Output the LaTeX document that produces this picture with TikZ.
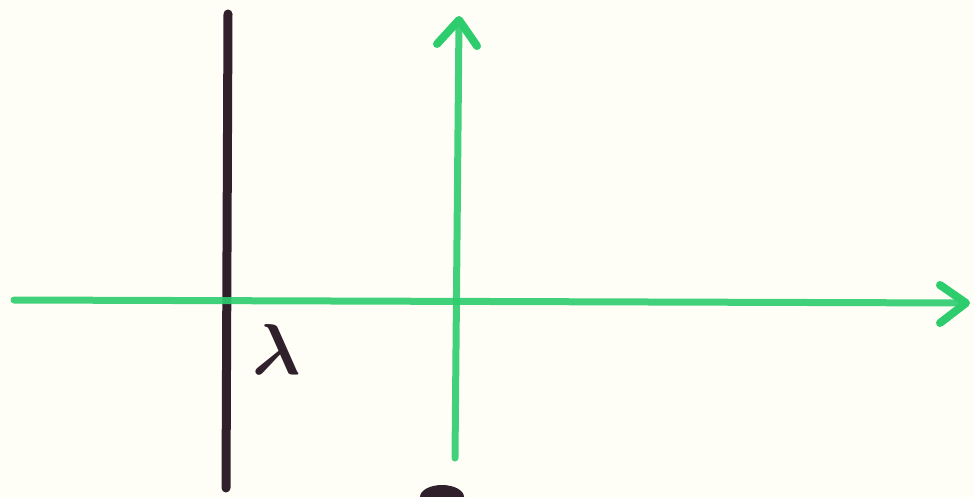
\documentclass[tikz,border=0pt]{standalone}
\usepackage{amsmath,bm}
\usetikzlibrary{calc}
\definecolor{marker}{RGB}{45,205,110}
\definecolor{ink}{RGB}{48,32,44}
\definecolor{paper}{RGB}{255,254,246}
\begin{document}
\begin{tikzpicture}[x=1pt,y=-1pt,
  axis/.style={draw=marker,line width=7pt,line cap=round,line join=round,opacity=0.9},
  tip/.style={draw=marker,line width=8pt,line cap=round,line join=round},
  wall/.style={draw=ink,line width=9pt,line cap=round}]
\fill[paper] (0,0) rectangle (974,497);
\useasboundingbox (0,0) rectangle (974,497);
% coordinates
\coordinate (hl) at (14,300);
\coordinate (hr) at (966,303);
\coordinate (vb) at (455,458);
\coordinate (vt) at (459,20);
\coordinate (wt) at (228,14);
\coordinate (wb) at (226,488);
% black vertical line
\draw[wall] (wt) -- (wb);
% horizontal axis
\draw[axis] (hl) -- (hr);
\draw[tip] ($(hr)+(-26,-18)$) -- (hr) -- ($(hr)+(-26,20)$);
% vertical axis
\draw[axis] (vb) -- (vt);
\draw[tip] ($(vt)+(-22,24)$) -- (vt) -- ($(vt)+(18,26)$);
% lambda label
\node[text=ink,inner sep=0pt] (lam) at (277,349) {\scalebox{7.2}{$\bm{\lambda}$}};
% partial mark at bottom edge
\fill[ink] (420,497) arc[start angle=180,end angle=360,x radius=22,y radius=12] -- cycle;
\end{tikzpicture}
\end{document}
